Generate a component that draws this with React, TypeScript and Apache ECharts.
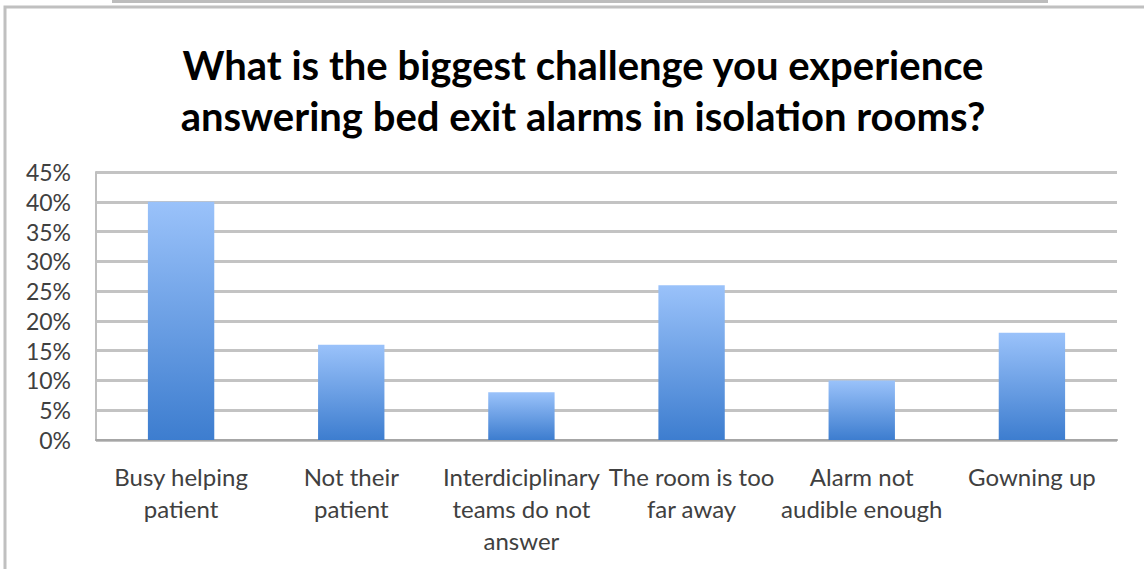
import React, { useEffect, useRef } from "react";
import * as echarts from "echarts";

const titleLines = [
  "What is the biggest challenge you experience",
  "answering bed exit alarms in isolation rooms?",
];
const categories = [
  "Busy helping\npatient",
  "Not their\npatient",
  "Interdiciplinary\nteams do not\nanswer",
  "The room is too\nfar away",
  "Alarm not\naudible enough",
  "Gowning up",
];
const values = [40, 16, 8, 26, 10, 18];
const yMin = 0;
const yMax = 45;
const yStep = 5;

export default function App() {
  const ref = useRef<HTMLDivElement>(null);
  useEffect(() => {
    if (!ref.current) return;
    const chart = echarts.init(ref.current, null, { renderer: "svg" });
    const font = "Lato, 'Open Sans', sans-serif";
    chart.setOption({
      animation: false,
      backgroundColor: "#ffffff",
      title: {
        text: titleLines.join("\n"),
        left: 578,
        top: 34,
        textAlign: "center",
        textStyle: {
          fontFamily: font,
          fontWeight: "bold",
          fontSize: 40,
          lineHeight: 51,
          color: "#000000",
        },
      },
      graphic: [
        {
          type: "rect",
          shape: { x: 112, y: -2, width: 936, height: 5 },
          style: { fill: "#bdbdbd" },
          silent: true,
        },
        {
          type: "rect",
          shape: { x: 5, y: 7, width: 1150, height: 600 },
          style: { fill: "none", stroke: "#c0c0c0", lineWidth: 3 },
          silent: true,
        },
      ],
      grid: { left: 96, right: 27, top: 172, bottom: 129, containLabel: false },
      xAxis: {
        type: "category",
        data: categories,
        axisLine: { show: true, lineStyle: { color: "#a6a6a6", width: 2 } },
        axisTick: { show: false },
        axisLabel: {
          interval: 0,
          margin: 20,
          fontFamily: font,
          fontSize: 24,
          lineHeight: 32,
          color: "#404040",
        },
      },
      yAxis: {
        type: "value",
        min: yMin,
        max: yMax,
        interval: yStep,
        axisLine: { show: true, lineStyle: { color: "#bfbfbf", width: 2 } },
        axisTick: { show: false },
        splitLine: { lineStyle: { color: "#c3c3c3", width: 3 } },
        axisLabel: {
          margin: 25,
          formatter: "{value}%",
          fontFamily: font,
          fontSize: 23,
          color: "#404040",
        },
      },
      series: [
        {
          type: "bar",
          data: values,
          barWidth: "39%",
          itemStyle: {
            color: new echarts.graphic.LinearGradient(0, 0, 0, 1, [
              { offset: 0, color: "#9ac2fa" },
              { offset: 1, color: "#3d7dcf" },
            ]),
          },
        },
      ],
    });
    return () => chart.dispose();
  }, []);
  return (
    <div
      ref={ref}
      style={{ position: "absolute", left: 0, top: 0, width: 1144, height: 569 }}
    />
  );
}
